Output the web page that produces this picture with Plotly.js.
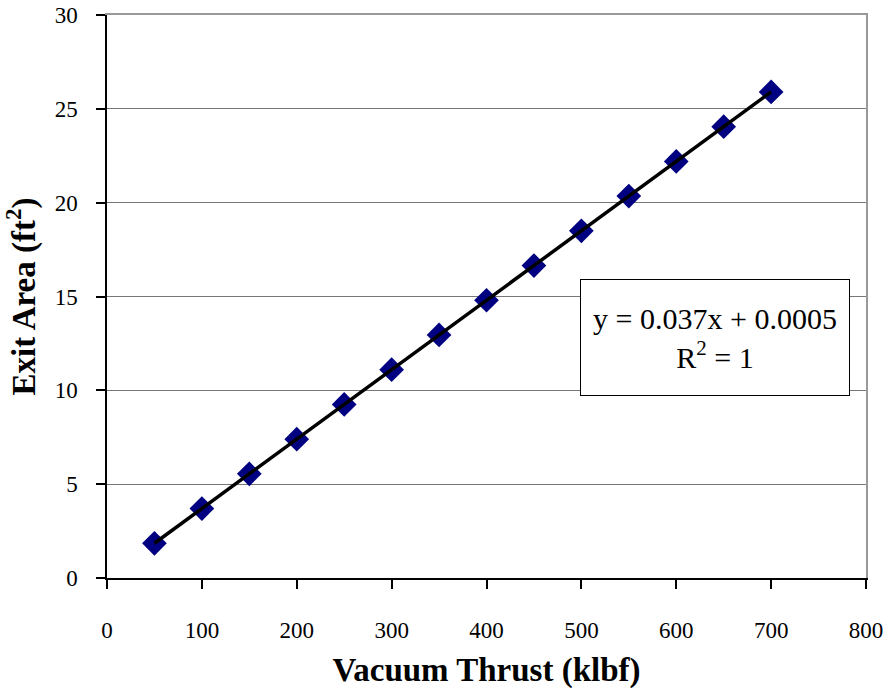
<!DOCTYPE html>
<html><head><meta charset="utf-8">
<script src="https://cdn.plot.ly/plotly-3.0.1.min.js"></script>
</head><body style="margin:0;background:#fff"><div id="chart" style="width:890px;height:698px"></div>
<script>
const thrust = [50,100,150,200,250,300,350,400,450,500,550,600,650,700];
const exitArea = [1.85,3.7,5.55,7.4,9.25,11.1,12.95,14.8,16.65,18.5,20.35,22.2,24.05,25.9];
const slope = 0.037, intercept = 0.0005;
const xTicks = [0,100,200,300,400,500,600,700,800];
const yTicks = [0,5,10,15,20,25,30];
const fitY = thrust.map(x => slope*x + intercept);
const FAM = 'Liberation Serif';

const data = [
  {x: thrust, y: exitArea, mode:'markers', type:'scatter',
   marker:{symbol:'diamond', size:19, color:'#000080', line:{width:0}}},
  {x: thrust, y: fitY, mode:'lines', type:'scatter',
   line:{color:'#000', width:3.5}},
  {x: thrust, y: exitArea, xaxis:'x2', yaxis:'y2', mode:'markers', type:'scatter',
   marker:{opacity:0}, hoverinfo:'skip'}
];
const layout = {
  width:890, height:698, showlegend:false,
  margin:{l:107, r:24, t:15, b:120},
  paper_bgcolor:'#fff', plot_bgcolor:'#fff',
  font:{family:FAM},
  xaxis:{range:[0,800], tickvals:xTicks,
    showgrid:false, zeroline:false, showline:true, linecolor:'#000', linewidth:1.5,
    ticks:'outside', ticklen:9, tickcolor:'#000', tickwidth:1.5, ticklabelstandoff:22,
    tickfont:{family:FAM, size:23, color:'#000'},
    title:{text:'<b>Vacuum Thrust (klbf)</b>', font:{family:FAM, size:33, color:'#000'}, standoff:16}},
  yaxis:{range:[0,30], tickvals:yTicks,
    showgrid:true, gridcolor:'#777', gridwidth:1, zeroline:false,
    showline:true, linecolor:'#000', linewidth:1.5,
    ticks:'outside', ticklen:9, tickcolor:'#000', tickwidth:1.5, ticklabelstandoff:14,
    tickfont:{family:FAM, size:23, color:'#000'},
    title:{text:'<b>Exit Area (ft<sup>2</sup>)</b>', font:{family:FAM, size:33, color:'#000'}, standoff:12}},
  xaxis2:{overlaying:'x', side:'top', anchor:'y2', range:[0,800], showline:true, linecolor:'#999', linewidth:2,
    showgrid:false, zeroline:false, ticks:'', showticklabels:false},
  yaxis2:{overlaying:'y', side:'right', anchor:'x2', range:[0,30], showline:true, linecolor:'#999', linewidth:2,
    showgrid:false, zeroline:false, ticks:'', showticklabels:false},
  annotations:[
    {xref:'x', yref:'y', x:640.5, y:12.8, showarrow:false,
     text:'y = 0.037x + 0.0005<br>R<sup>2</sup> = 1', align:'center',
     font:{family:FAM, size:30, color:'#000'},
     bgcolor:'#fff', bordercolor:'#000', borderwidth:1, borderpad:6, width:256, height:103}
  ]
};
Plotly.newPlot('chart', data, layout, {displayModeBar:false});
</script></body></html>
